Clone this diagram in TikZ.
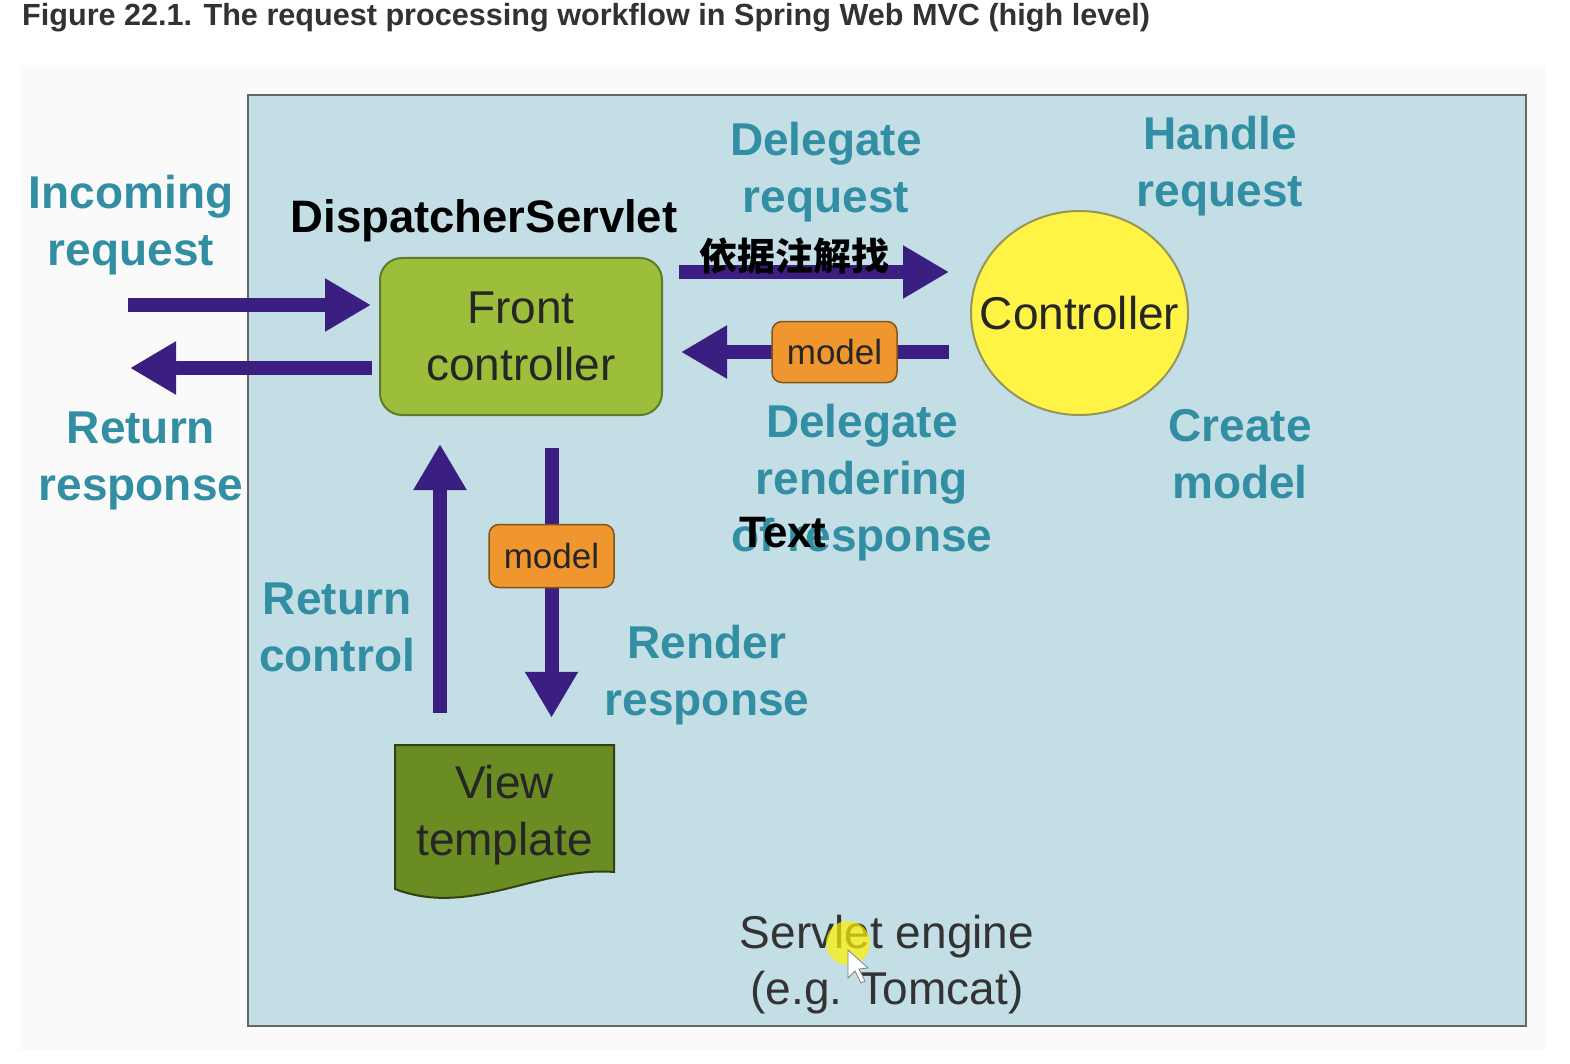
\documentclass[tikz,border=0pt]{standalone}
\usepackage{fontspec}
\setmainfont{Liberation Sans}
\newfontfamily\cjk{Noto Sans CJK SC}
\usetikzlibrary{arrows.meta,shapes.geometric}
\definecolor{tealtxt}{RGB}{50,142,162}
\definecolor{boxbg}{RGB}{196,222,230}
\definecolor{arrowc}{RGB}{58,30,128}
\definecolor{fcfill}{RGB}{157,190,58}
\definecolor{fcdraw}{RGB}{94,122,42}
\definecolor{modfill}{RGB}{240,150,46}
\definecolor{moddraw}{RGB}{130,85,30}
\definecolor{vtfill}{RGB}{107,140,35}
\definecolor{vtdraw}{RGB}{50,65,20}
\definecolor{ctrlfill}{RGB}{255,243,70}
\definecolor{ctrldraw}{RGB}{150,150,90}
\definecolor{titlec}{RGB}{50,50,50}
\begin{document}
\begin{tikzpicture}[x=1pt,y=-1pt,
  tlabel/.style={text=tealtxt, font=\fontsize{46}{57}\selectfont\bfseries, align=center, inner sep=0pt},
  bigtext/.style={text=black!85, font=\fontsize{46}{57}\selectfont, align=center, inner sep=0pt},
  bigarrow/.style={draw=arrowc, line width=14pt, -{Triangle[length=46pt,width=50pt]}},
  modelbox/.style={draw=moddraw, line width=1.5pt, fill=modfill, rounded corners=10pt,
    minimum width=125pt, minimum height=61pt, inner sep=0pt, text=black!85,
    font=\fontsize{35}{40}\selectfont}
]
\useasboundingbox (0,0) rectangle (1570,1064);
\fill[white] (0,0) rectangle (1570,1064);
\fill[black!2] (20,65) rectangle (1545,1050);
% main box
\draw[fill=boxbg, draw=black!60, line width=2.5pt] (248,95) rectangle (1526,1026);

% title
\node[anchor=west, inner sep=0pt, text=titlec, font=\fontsize{30.6}{34}\selectfont\bfseries] (title) at (22,18)
  {Figure 22.1. The request processing workflow in Spring Web MVC (high level)};

% main nodes
\node[draw=fcdraw, line width=2pt, fill=fcfill, rounded corners=22pt, minimum width=282pt, minimum height=157pt, bigtext] (fc) at (521,336.5) {Front\\controller};
\node[ellipse, draw=ctrldraw, line width=2pt, fill=ctrlfill, minimum width=217pt, minimum height=204pt, inner sep=0pt] (ctrl) at (1079.5,313) {};
\node[bigtext] (ctrllab) at (ctrl.center) {Controller};

% view template shape
\draw[fill=vtfill, draw=vtdraw, line width=2pt] (395,745) -- (614,745) -- (614,872)
  .. controls (540,866) and (470,918) .. (395,889) -- cycle;
\node[minimum width=219pt, minimum height=127pt, inner sep=0pt] (vt) at (504.5,808.5) {};
\node[bigtext] (vtlab) at (504.5,815) {View\\template};

% coordinates
\coordinate (inS) at (128,305);
\coordinate (retE) at (130,368);
\coordinate (drY) at (0,272);
\coordinate (m1c) at (834.5,352);
\coordinate (m2c) at (551.5,556);
\coordinate (upx) at (440,0);

% arrows
\draw[bigarrow, shorten >=8pt] (inS) -- (inS -| fc.west);
\draw[bigarrow, shorten <=7pt] (retE -| fc.west) -- (retE);
\draw[bigarrow, shorten <=16pt, shorten >=21pt] (drY -| fc.east) -- (drY -| ctrl.west);
\draw[bigarrow, shorten <=21pt, shorten >=18pt] (m1c -| ctrl.west) -- (m1c -| fc.east);
\draw[bigarrow, shorten <=32pt, shorten >=27pt] (fc.south -| m2c) -- (vt.north -| m2c);
\draw[bigarrow, shorten <=32pt, shorten >=28pt] (vt.north -| upx) -- (fc.south -| upx);

% model boxes
\node[modelbox] (m1) at (m1c) {model};
\node[modelbox, minimum height=63pt] (m2) at (m2c) {model};

% teal labels
\node[tlabel] (l1) at (131,225) {Incoming\\request};
\node[tlabel] (l2) at (141,461) {Return\\response};
\node[tlabel] (l3) at (826,172) {Delegate\\request};
\node[tlabel] (l4) at (1220,166) {Handle\\request};
\node[tlabel] (l5) at (862,483) {Delegate\\rendering\\of response};
\node[tlabel] (l6) at (1240,454) {Create\\model};
\node[tlabel] (l7) at (337,627) {Return\\control};
\node[tlabel] (l8) at (707,675) {Render\\response};

% black overlay texts
\node[inner sep=0pt, font=\fontsize{45.5}{50}\selectfont\bfseries] (ds) at (484,221) {DispatcherServlet};
\node[inner sep=0pt, font=\fontsize{38}{40}\selectfont\cjk\bfseries] (cn) at (794,256) {依据注解找};
\node[inner sep=0pt, font=\fontsize{44}{50}\selectfont\bfseries] (tx) at (783,533) {Text};

% servlet engine
\node[inner sep=0pt, text=black!80, font=\fontsize{46}{56}\selectfont, align=center] (se) at (887,965) {Servlet engine\\(e.g. Tomcat)};
% cursor highlight
\fill[yellow, opacity=0.7] (848,943) circle (22pt);
\draw[fill=white, draw=black!50, line width=0.8pt] (848,950) -- (848,978) -- (855,971) -- (861,983) -- (865,981) -- (859,969) -- (868,968) -- cycle;
\end{tikzpicture}
\end{document}
